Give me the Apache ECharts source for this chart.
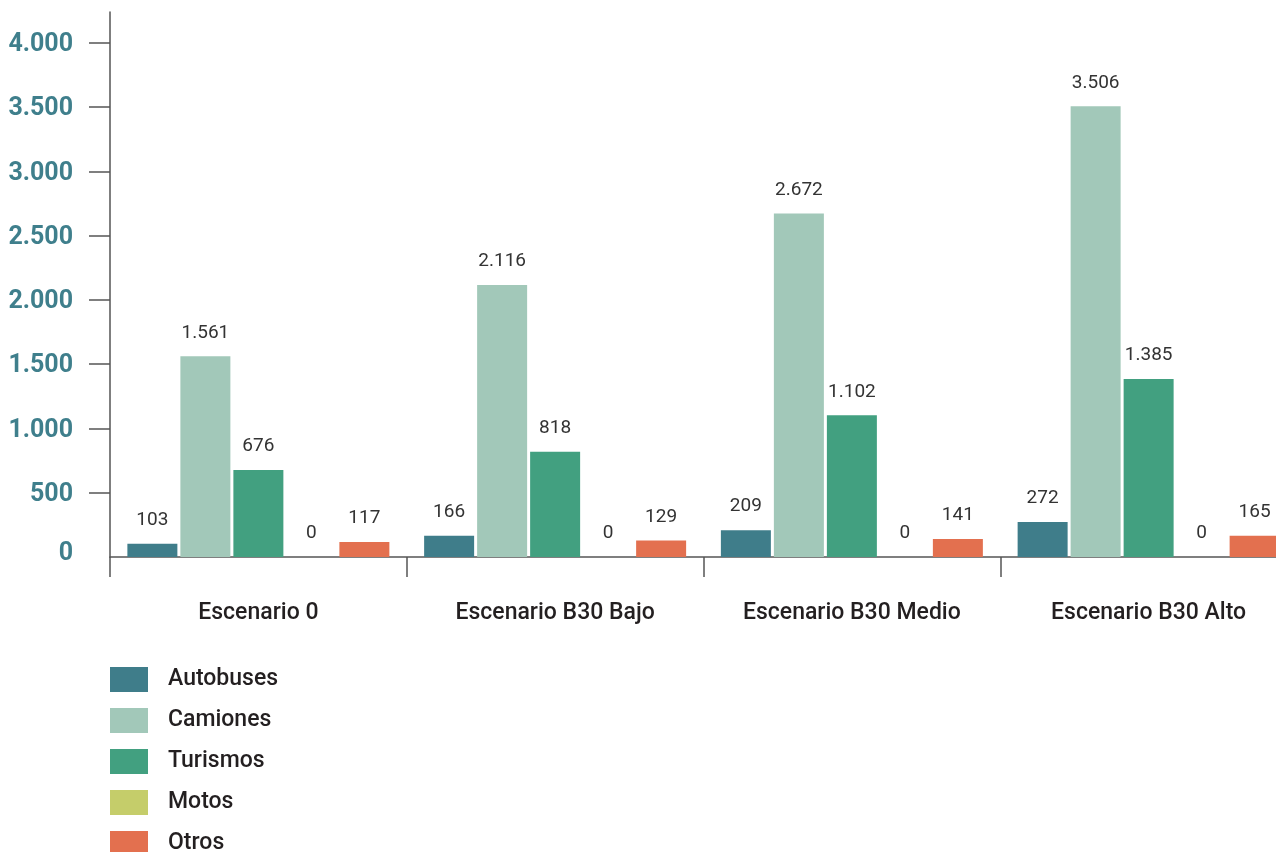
<!DOCTYPE html>
<html>
<head>
<meta charset="utf-8">
<script src="https://cdn.jsdelivr.net/npm/echarts@6/dist/echarts.min.js"></script>
<style>
html,body{margin:0;padding:0;background:#fff;}
#chart{width:1276px;height:852px;}
</style>
</head>
<body>
<div id="chart"></div>
<script>
const categories = ['Escenario 0', 'Escenario B30 Bajo', 'Escenario B30 Medio', 'Escenario B30 Alto'];
const autobuses = [103, 166, 209, 272];
const camiones = [1561, 2116, 2672, 3506];
const turismos = [676, 818, 1102, 1385];
const motos = [0, 0, 0, 0];
const otros = [117, 129, 141, 165];
const seriesNames = ['Autobuses', 'Camiones', 'Turismos', 'Motos', 'Otros'];
const yLabelValues = [0, 500, 1000, 1500, 2000, 2500, 3000, 3500, 4000];
const yTickValues = [500, 1000, 1500, 2000, 2500, 3000, 3500, 4000];

const colors = ['#3f7d8a', '#a2c8b9', '#42a080', '#c5cd6a', '#e3704f'];
const FONT = 'Roboto';

function fmt(v) {
  return String(v).replace(/\B(?=(\d{3})+(?!\d))/g, '.');
}

const dataSets = [autobuses, camiones, turismos, motos, otros];

const chart = echarts.init(document.getElementById('chart'), null, {renderer: 'canvas'});
chart.setOption({
  animation: false,
  color: colors,
  textStyle: {fontFamily: FONT},
  grid: {left: 110, width: 1187, top: 12, height: 545, containLabel: false, outerBoundsMode: 'none'},
  legend: {
    orient: 'vertical',
    left: 110,
    top: 667,
    height: 300,
    padding: 0,
    itemWidth: 38,
    itemHeight: 25,
    itemGap: 16,
    icon: 'rect',
    data: seriesNames,
    textStyle: {fontFamily: FONT, fontSize: 23, fontWeight: 500, color: '#231f20', padding: [3, 0, 0, 15]}
  },
  xAxis: {
    type: 'category',
    data: categories,
    axisLine: {lineStyle: {color: '#555', width: 1.5}},
    axisTick: {show: true, length: 20, lineStyle: {color: '#555', width: 1.5}},
    axisLabel: {fontFamily: FONT, fontSize: 23, fontWeight: 500, color: '#231f20', margin: 45}
  },
  yAxis: {
    type: 'value',
    min: 0,
    max: 4240,
    interval: 500,
    splitLine: {show: false},
    axisLine: {show: true, lineStyle: {color: '#555', width: 1.5}},
    axisTick: {show: true, length: 21, customValues: yTickValues, lineStyle: {color: '#555', width: 1.5}},
    axisLabel: {
      customValues: yLabelValues,
      margin: 37,
      fontFamily: FONT,
      fontSize: 25,
      fontWeight: 'bold',
      color: '#3f7f8c',
      padding: [4, 0, 0, 0],
      formatter: function (v) { return v === 0 ? '{z|0}' : fmt(v); },
      rich: {z: {fontFamily: FONT, fontSize: 25, fontWeight: 'bold', color: '#3f7f8c', padding: [0, 0, 10, 0]}}
    }
  },
  series: seriesNames.map(function (name, i) {
    return {
      name: name,
      type: 'bar',
      data: dataSets[i],
      barWidth: 50,
      barGap: '6%',
      label: {
        show: true,
        position: 'top',
        distance: 14,
        fontFamily: FONT,
        fontSize: 19,
        color: '#333',
        formatter: function (p) { return fmt(p.value); }
      }
    };
  })
});
</script>
</body>
</html>
